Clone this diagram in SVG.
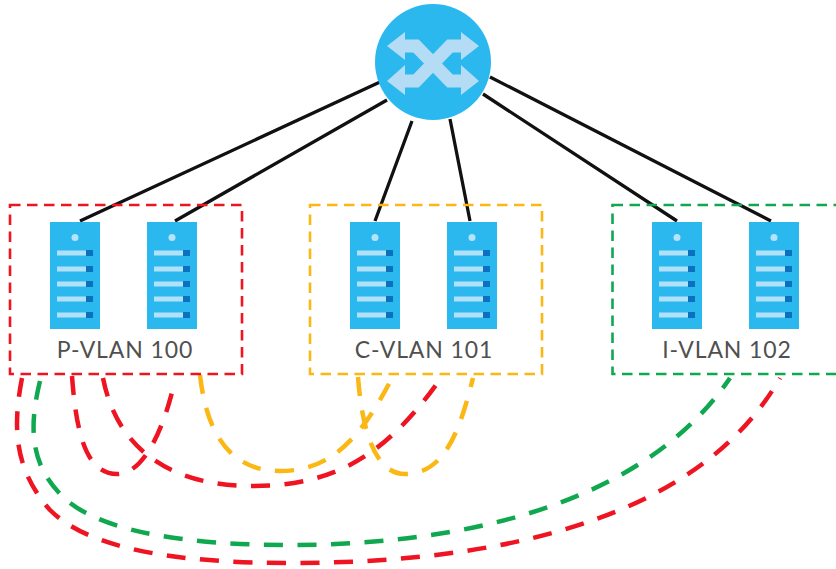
<svg xmlns="http://www.w3.org/2000/svg" width="836" height="569" viewBox="0 0 836 569">
<style>
.box{fill:none;stroke-width:2.6;stroke-dasharray:10.5 6.5}
.link{fill:none;stroke:#111;stroke-width:3.3}
.c{fill:none;stroke-width:4.5;stroke-dasharray:19 14.5}
.r{stroke:#ee1421}.y{stroke:#fbb713}.g{stroke:#0fa84f}
.lbl{font-family:"Lato","Liberation Sans",sans-serif;font-size:23px;fill:#505050;text-anchor:middle;letter-spacing:.9px}
.arrow{fill:none;stroke:#b5dcf5;stroke-width:13}
.head{fill:#b5dcf5}
</style>
<defs>
<g id="server">
<rect width="50" height="107" fill="#2ab8ef"/>
<circle cx="25" cy="15.5" r="3.5" fill="#b5e3f8"/>
<g fill="#b0e1f9"><rect x="7" y="28.500" width="29" height="5"/><rect x="7" y="44.500" width="29" height="5"/><rect x="7" y="59.500" width="29" height="5"/><rect x="7" y="74.500" width="29" height="5"/><rect x="7" y="90.500" width="29" height="5"/></g>
<g fill="#0b70bd"><rect x="36" y="28" width="7" height="6"/><rect x="36" y="44" width="7" height="6"/><rect x="36" y="59" width="7" height="6"/><rect x="36" y="74" width="7" height="6"/><rect x="36" y="90" width="7" height="6"/></g>
</g>
</defs>
<rect width="836" height="569" fill="#fff"/>
<g id="connectors">
<path class="link" d="M380 82L80 221M387 100L175 221M412 121L375 221M450 119L470 221M490 77L771 221M483 94L677 221"/>
<path class="c y" d="M200 375C205 420 222 471 280 471C330 471 360 440 392 378"/>
<path class="c y" d="M358 377C362 430 375 474 405 474C445 474 460 430 473 378"/>
<path class="c r" d="M72 376C76 430 85 474 117 474C145 474 165 425 175 380"/>
<path class="c r" d="M103 378C115 440 160 486 253 486C340 486 390 450 441 378"/>
<path class="c g" d="M40 381C28 430 30 470 70 503C110 533 190 545 290 545C450 545 640 510 730 378"/>
<path class="c r" d="M22 378C12 430 15 470 50 510C90 550 180 563 290 563C460 563 690 535 780 378"/>
</g>
<g id="switch">
<circle cx="433" cy="62" r="58" fill="#2ab8ef"/>
<path class="arrow" d="M400 46H416L450 81H466M400 81H416L450 46H466"/>
<path class="head" d="M387 46L405 32V60ZM387 81L405 65V95ZM479 46L461 32V60ZM479 81L461 65V95Z"/>
</g>
<g id="p-vlan">
<rect class="box r" x="10" y="205" width="232" height="169"/>
<use href="#server" x="50" y="222"/><use href="#server" x="147" y="222"/>
<text class="lbl" x="125" y="358">P-VLAN 100</text>
</g>
<g id="c-vlan">
<rect class="box y" x="310" y="205" width="232" height="169"/>
<use href="#server" x="350" y="222"/><use href="#server" x="447" y="222"/>
<text class="lbl" x="424" y="358">C-VLAN 101</text>
</g>
<g id="i-vlan">
<rect class="box g" x="612.500" y="205" width="240" height="169"/>
<use href="#server" x="652" y="222"/><use href="#server" x="749" y="222"/>
<text class="lbl" x="727" y="358">I-VLAN 102</text>
</g>
</svg>
